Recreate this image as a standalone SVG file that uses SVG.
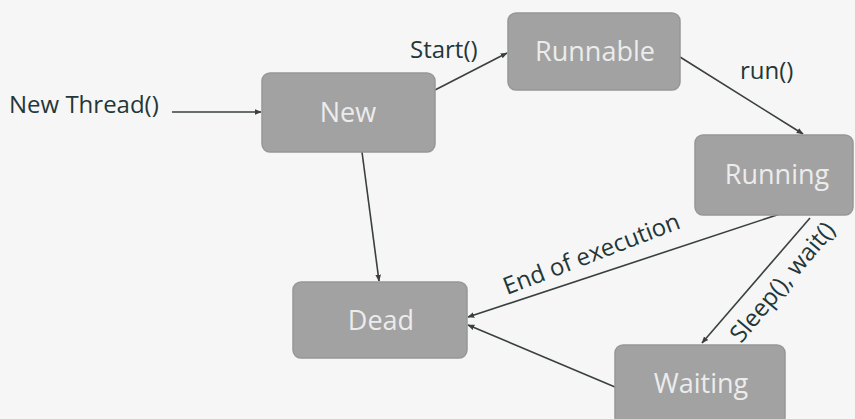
<svg xmlns="http://www.w3.org/2000/svg" width="855" height="419" viewBox="0 0 855 419">
<defs>
<style>
.box{fill:#a2a2a2;stroke:#979797;stroke-width:1.5}
.nt{font-family:"Open Sans","Liberation Sans",sans-serif;font-size:27px;fill:#ececec;text-anchor:middle}
.lb{font-family:"Open Sans","Liberation Sans",sans-serif;font-size:24px;fill:#243636}
.ln{stroke:#3a3f3f;stroke-width:1.6;fill:none;marker-end:url(#ah)}
</style>
<marker id="ah" viewBox="0 0 10 10" refX="9" refY="5" markerWidth="7" markerHeight="7" orient="auto" markerUnits="userSpaceOnUse">
<path d="M0,1 L10,5 L0,9 z" fill="#3a3f3f"/>
</marker>
</defs>
<rect width="855" height="419" fill="#f6f6f6"/>
<g id="connectors">
<line class="ln" x1="172" y1="112" x2="261" y2="112"/>
<line class="ln" x1="435" y1="90" x2="507" y2="53"/>
<line class="ln" x1="680" y1="57" x2="803" y2="134"/>
<line class="ln" x1="362" y1="152" x2="379" y2="281"/>
<line class="ln" x1="780" y1="214" x2="468" y2="317"/>
<line class="ln" x1="810" y1="218" x2="702" y2="343"/>
<line class="ln" x1="615" y1="387" x2="468" y2="325"/>
</g>
<g id="labels">
<text class="lb" x="9" y="113">New Thread()</text>
<text class="lb" x="410" y="58">Start()</text>
<text class="lb" x="740" y="79">run()</text>
<text class="lb" transform="translate(507,295) rotate(-21)">End of execution</text>
<text class="lb" transform="translate(741,344) rotate(-50)">Sleep(), wait()</text>
</g>
<g id="node-new"><rect class="box" x="262" y="73" width="173" height="79" rx="8"/><text class="nt" x="348" y="122">New</text></g>
<g id="node-runnable"><rect class="box" x="508" y="13" width="172" height="77" rx="8"/><text class="nt" x="595" y="61">Runnable</text></g>
<g id="node-running"><rect class="box" x="695" y="135" width="158" height="80" rx="8"/><text class="nt" x="777" y="184">Running</text></g>
<g id="node-dead"><rect class="box" x="293" y="282" width="174" height="76" rx="8"/><text class="nt" x="381" y="330">Dead</text></g>
<g id="node-waiting"><rect class="box" x="615" y="345" width="170" height="80" rx="8"/><text class="nt" x="701" y="393">Waiting</text></g>
</svg>
